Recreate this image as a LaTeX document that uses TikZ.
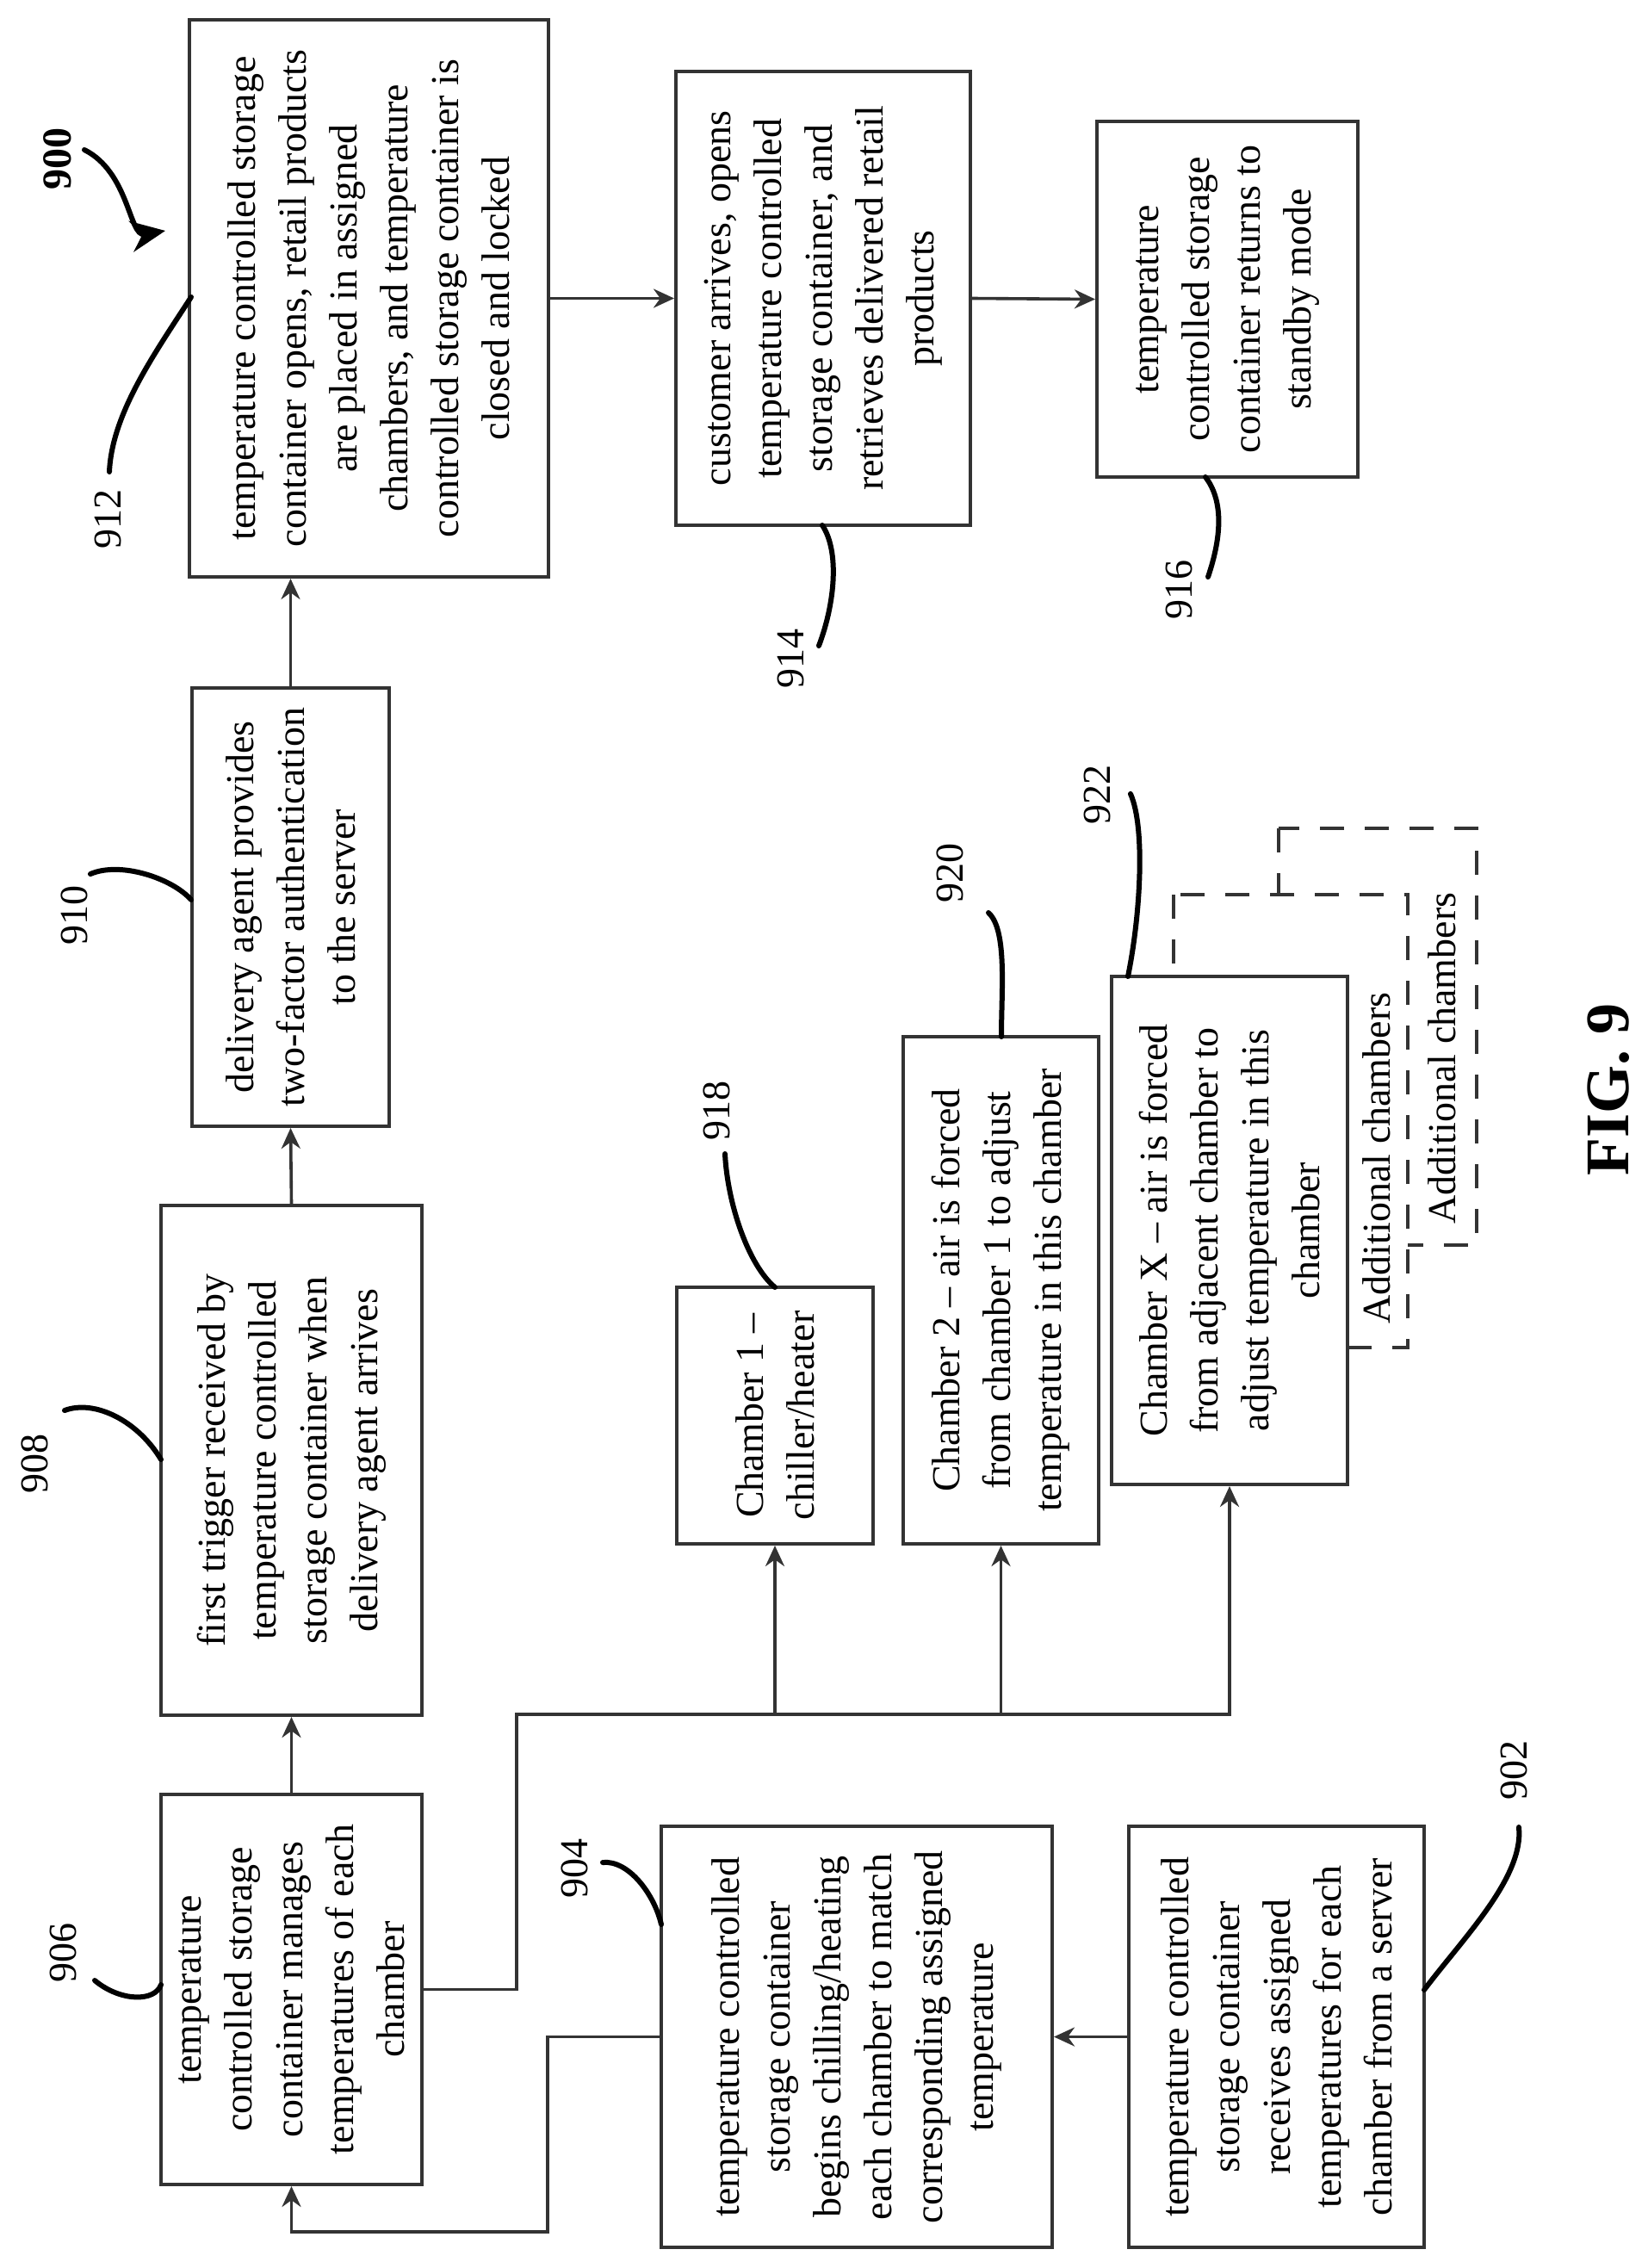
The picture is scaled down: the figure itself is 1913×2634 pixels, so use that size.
\documentclass[tikz,border=0pt]{standalone}
\usepackage{fontspec}
\setmainfont{Liberation Serif}
\usetikzlibrary{arrows.meta}
\tikzset{
	box/.style={draw=black!80, line width=2pt, rotate=90, align=center, inner sep=2pt,
		font=\fontsize{23}{29.5}\selectfont},
	dbox/.style={box, dashed, dash pattern=on 14pt off 12pt, fill=white},
	flow/.style={draw=black!80, line width=1.8pt, -{Stealth[length=12pt,width=11pt]}},
	line/.style={draw=black!80, line width=1.8pt},
	lead/.style={line width=3pt, line cap=round},
	num/.style={rotate=90, font=\fontsize{23}{28}\selectfont}
}
\begin{document}
\begin{tikzpicture}[x=0.5pt, y=-0.5pt]
	\useasboundingbox (0,0) rectangle (1913,2634);
	
	% main flow
	\node[box, minimum width=323.5pt, minimum height=208.5pt] (n912) at (428.5,346.5)
		{temperature controlled storage\\container opens, retail products\\are placed in assigned\\chambers, and temperature\\controlled storage container is\\closed and locked};
	\node[box, minimum width=263.5pt, minimum height=171pt] (n914) at (956,346.5)
		{customer arrives, opens\\temperature controlled\\storage container, and\\retrieves delivered retail\\products};
	\node[box, minimum width=206.5pt, minimum height=151.5pt] (n916) at (1425.5,347.5)
		{temperature\\controlled storage\\container returns to\\standby mode};
	\node[box, minimum width=254.5pt, minimum height=114.5pt] (n910) at (337.5,1053.5)
		{delivery agent provides\\two-factor authentication\\to the server};
	\node[box, minimum width=296pt, minimum height=151.5pt] (n908) at (338.5,1696)
		{first trigger received by\\temperature controlled\\storage container when\\delivery agent arrives};
	\node[box, minimum width=226.5pt, minimum height=151.5pt] (n906) at (338.5,2310.5)
		{temperature\\controlled storage\\container manages\\temperatures of each\\chamber};
	\node[box, minimum width=244.5pt, minimum height=227pt] (n904) at (995,2365.5)
		{temperature controlled\\storage container\\begins chilling/heating\\each chamber to match\\corresponding assigned\\temperature};
	\node[box, minimum width=244.5pt, minimum height=171.5pt] (n902) at (1482.5,2365.5)
		{temperature controlled\\storage container\\receives assigned\\temperatures for each\\chamber from a server};
	
	% chambers
	\node[box, minimum width=149pt, minimum height=114pt] (n918) at (900,1644)
		{Chamber 1 --\\chiller/heater};
	\node[box, minimum width=294.5pt, minimum height=113.5pt] (n920) at (1162.5,1498.5)
		{Chamber 2 -- air is forced\\from chamber 1 to adjust\\temperature in this chamber};
	\node[dbox, minimum width=242pt, minimum height=115pt] (addB) at (1600,1204) {};
	\node[dbox, minimum width=263pt, minimum height=136pt] (addA) at (1499,1302) {};
	\node[box, fill=white, minimum width=295pt, minimum height=137pt] (n922) at (1428,1429)
		{Chamber X -- air is forced\\from adjacent chamber to\\adjust temperature in this\\chamber};
	\node[num] (tA) at (1599,1345) {Additional chambers};
	\node[num] (tB) at (1675,1229) {Additional chambers};
	
	% connectors
	\coordinate (c1) at (636,2592);
	\coordinate (bus) at (600,1991);
	\draw[flow] (n902.north) -- (n904.south);
	\draw[flow] (n904.north) -| (c1) -| (n906.west);
	\draw[flow] (n906.east) -- (n908.west);
	\draw[flow] (n908.east) -- (n910.west);
	\draw[flow] (n910.east) -- (n910.east |- n912.west);
	\draw[flow] (n912.south) -- (n914.north);
	\draw[flow] (n914.south) -- (n916.north);
	\draw[flow] (n906.south) -| (bus) -| (n922.west);
	\draw[flow] (n918.west |- bus) -- (n918.west);
	\draw[flow] (n920.west |- bus) -- (n920.west);
	
	% reference numerals
	\node[num, font=\fontsize{24}{28}\selectfont\bfseries] (l900) at (67,184) {900};
	\node[num] (l912) at (125,603) {912};
	\node[num] (l910) at (86,1063) {910};
	\node[num] (l908) at (40,1700) {908};
	\node[num] (l906) at (73,2268) {906};
	\node[num] (l904) at (667,2170) {904};
	\node[num] (l902) at (1758,2056) {902};
	\node[num] (l918) at (832,1290) {918};
	\node[num] (l920) at (1103,1014) {920};
	\node[num] (l922) at (1274,923) {922};
	\node[num] (l916) at (1369,685) {916};
	\node[num] (l914) at (918,765) {914};
	\node[rotate=90, font=\fontsize{36}{40}\selectfont\bfseries] (fig) at (1868,1265) {FIG. 9};
	
	% leaders
	\draw[lead, -{Stealth[length=20pt,width=18pt]}] (98,174) .. controls (150,200) and (150,275) .. (192,268);
	\draw[lead] (127,548) .. controls (130,480) and (180,410) .. (222,345);
	\draw[lead] (105,1015) .. controls (140,1000) and (200,1020) .. (222,1045);
	\draw[lead] (75,1638) .. controls (110,1625) and (160,1650) .. (187,1695);
	\draw[lead] (110,2300) .. controls (140,2325) and (180,2325) .. (187,2305);
	\draw[lead] (700,2163) .. controls (730,2160) and (760,2200) .. (768,2235);
	\draw[lead] (1764,2122) .. controls (1770,2180) and (1700,2250) .. (1654,2311);
	\draw[lead] (842,1340) .. controls (845,1400) and (870,1470) .. (900,1495);
	\draw[lead] (1148,1060) .. controls (1170,1080) and (1163,1150) .. (1163,1204);
	\draw[lead] (1313,922) .. controls (1330,960) and (1325,1060) .. (1310,1134);
	\draw[lead] (1403,670) .. controls (1420,620) and (1420,580) .. (1400,554);
	\draw[lead] (951,750) .. controls (970,700) and (975,640) .. (955,610);
\end{tikzpicture}
\end{document}
